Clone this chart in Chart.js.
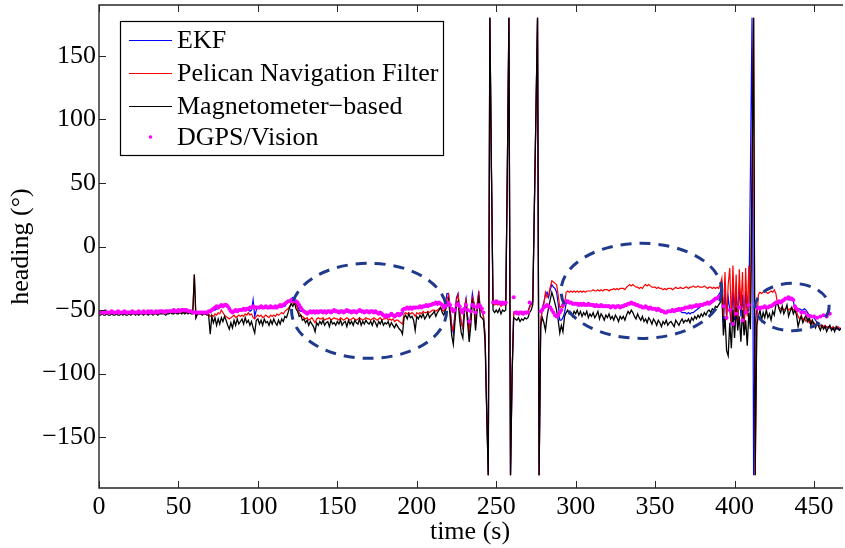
<!DOCTYPE html>
<html><head><meta charset="utf-8">
<script src="https://cdn.jsdelivr.net/npm/chart.js@4.4.1/dist/chart.umd.min.js"></script>
<style>html,body{margin:0;padding:0;background:#fff;}canvas{display:block;}</style>
</head><body>
<canvas id="c" width="845" height="548"></canvas>
<script>
// ---- data (heading in degrees, one sample per second starting at t = 0 s) ----
const timeStep = 1;
const seriesNames = ['EKF', 'Pelican Navigation Filter', 'Magnetometer\u2212based', 'DGPS/Vision'];
const xTickValues = [0, 50, 100, 150, 200, 250, 300, 350, 400, 450];
const yTickValues = [-150, -100, -50, 0, 50, 100, 150];

const ekf = [
-52,-52,-52,-52,-52,-52,-52,-52,-52,-52,
-52,-52,-52,-52,-52,-52,-52,-52,-52,-52,
-52,-52,-52,-52,-52,-52,-52,-52,-52,-52,
-52,-52,-52,-52,-52,-52,-52,-52,-52,-52,
-52,-52,-52,-52,-52,-51,-52,-52,-51,-52,
-52,-51,-52,-51,-52,-51,-52,-51,-52,-52,
-52,-52,-52,-52,-52,-52,-52,-52,-52,-52,
-52,-51,-50,-50,-49,-49,-48,-47,-48,-46,
-45,-46,-48,-50,-51,-52,-51,-52,-51,-50,
-50,-49,-50,-49,-50,-51,-50,-42,-55,-50,
-48,-49,-48,-49,-48,-48,-49,-48,-49,-48,
-48,-49,-48,-47,-48,-47,-46,-47,-45,-44,
-43,-41,-40,-42,-44,-47,-50,-51,-51,-52,
-52,-53,-52,-52,-52,-52,-53,-52,-52,-52,
-52,-52,-52,-53,-52,-52,-52,-52,-51,-52,
-52,-52,-52,-52,-52,-52,-51,-52,-52,-52,
-52,-52,-52,-52,-51,-52,-52,-52,-52,-52,
-52,-52,-52,-52,-52,-53,-53,-53,-54,-54,
-55,-55,-55,-55,-54,-55,-55,-55,-54,-55,
-54,-53,-49,-49,-48,-49,-48,-49,-48,-49,
-48,-48,-48,-48,-47,-48,-47,-47,-47,-46,
-46,-46,-45,-46,-45,-45,-46,-47,-45,-37,
-37,-50,-62,-68,-52,-40,-37,-50,-60,-64,
-48,-41,-55,-68,-50,-37,-45,-62,-46,-35,
-50,-51,-55,-70,-128,-180,180,60,-45,-45,
-44,-45,-44,-46,-45,-44,-45,60,180,-180,
-100,-52,-52,-53,-52,-52,-53,-52,-52,-52,
-51,-47,-45,-43,30,105,180,-180,-60,-48,
-44,-38,-36,-40,-34,-30,-32,-33,-36,-45,
-58,-58,-56,-52,-45,-44,-45,-44,-45,-45,
-45,-44,-45,-45,-45,-44,-45,-45,-46,-45,
-46,-45,-46,-46,-46,-47,-46,-46,-47,-46,
-47,-46,-47,-47,-47,-47,-47,-46,-47,-47,
-46,-46,-45,-44,-45,-44,-44,-45,-46,-46,
-47,-47,-47,-48,-47,-48,-48,-48,-49,-48,
-49,-49,-49,-50,-50,-51,-51,-52,-51,-51,
-51,-51,-51,-51,-51,-50,-51,-52,-52,-52,
-53,-52,-53,-52,-52,-51,-50,-49,-48,-47,
-46,-45,-45,-44,-44,-43,-43,-42,-41,-40,
-38,-36,-30,-60,-35,-55,-40,-50,-62,-32,
-58,-35,-60,-30,-55,-38,-66,-35,-52,-50,
60,180,-180,-60,-50,-48,-48,-48,-48,-48,
-48,-48,-47,-48,-47,-46,-45,-44,-43,-43,
-42,-42,-42,-41,-42,-42,-42,-43,-49,-49,
-49,-49,-50,-50,-49,-50,-52,-54,-54,-55,
-56,-58,-60,-62,-62,-62,-63,-63,-63,-64,
-64,-64,-65,-64,-65,-64,-65,-65
];

const pelican = [
-52,-52,-52,-52,-52,-52,-52,-52,-52,-52,
-52,-52,-52,-52,-52,-52,-52,-52,-52,-52,
-52,-52,-52,-52,-52,-52,-52,-52,-52,-52,
-52,-52,-52,-52,-52,-52,-52,-52,-52,-52,
-52,-52,-52,-52,-52,-51,-52,-52,-51,-52,
-52,-51,-52,-51,-52,-51,-52,-51,-52,-52,
-22,-56,-53,-53,-53,-53,-53,-53,-53,-53,
-55,-54,-55,-53,-54,-52,-53,-50,-52,-54,
-55,-56,-57,-56,-55,-54,-56,-55,-54,-55,
-54,-55,-53,-54,-52,-54,-53,-56,-57,-55,
-54,-55,-54,-56,-55,-54,-55,-56,-54,-55,
-54,-55,-53,-54,-53,-52,-53,-51,-50,-49,
-47,-45,-44,-43,-45,-49,-52,-54,-55,-56,
-57,-56,-58,-57,-56,-58,-60,-57,-56,-57,
-57,-56,-58,-57,-57,-56,-58,-57,-56,-57,
-57,-58,-56,-57,-58,-57,-56,-57,-58,-57,
-56,-57,-58,-57,-56,-57,-58,-57,-56,-57,
-57,-58,-57,-56,-57,-58,-57,-56,-58,-57,
-57,-56,-58,-57,-58,-57,-59,-58,-58,-59,
-60,-61,-53,-52,-53,-52,-53,-52,-53,-55,
-52,-53,-52,-53,-51,-52,-52,-51,-52,-51,
-50,-50,-51,-50,-49,-48,-50,-51,-48,-42,
-38,-50,-62,-66,-55,-42,-38,-50,-60,-64,
-48,-42,-55,-67,-55,-40,-44,-60,-46,-37,
-50,-51,-55,-70,-128,-180,180,60,-46,-46,
-45,-46,-45,-47,-46,-45,-46,60,180,-180,
-100,-52,-53,-52,-53,-52,-53,-52,-52,-53,
-52,-48,-46,-44,30,105,180,-180,-58,-50,
-45,-36,-40,-38,-32,-27,-28,-29,-30,-38,
-48,-47,-48,-46,-36,-35,-36,-35,-36,-35,
-36,-35,-36,-35,-36,-35,-36,-35,-35,-35,
-35,-34,-35,-35,-34,-35,-34,-35,-34,-34,
-34,-35,-34,-34,-33,-34,-33,-34,-33,-33,
-33,-34,-32,-31,-30,-31,-30,-31,-32,-32,
-33,-32,-33,-31,-30,-31,-30,-31,-32,-32,
-32,-33,-32,-33,-33,-34,-33,-34,-33,-33,
-33,-34,-33,-32,-33,-33,-32,-33,-33,-32,
-32,-33,-32,-32,-31,-32,-32,-31,-32,-32,
-32,-31,-32,-33,-32,-32,-33,-32,-33,-32,
-33,-30,-25,-55,-20,-58,-30,-17,-60,-15,
-55,-22,-62,-18,-50,-20,-65,-17,-55,-15,
-60,55,180,-180,-60,-38,-36,-37,-36,-35,
-36,-37,-36,-35,-36,-34,-37,-45,-48,-49,
-48,-50,-49,-48,-50,-49,-48,-50,-49,-51,
-55,-57,-54,-58,-56,-59,-57,-60,-58,-61,
-60,-62,-61,-63,-62,-64,-63,-62,-64,-63,
-63,-64,-63,-65,-64,-63,-64,-65
];

const magnetometer = [
-54,-54,-53,-54,-54,-53,-54,-54,-53,-54,
-54,-53,-54,-54,-53,-54,-53,-54,-54,-53,
-54,-53,-53,-54,-53,-54,-53,-53,-54,-53,
-53,-54,-53,-53,-54,-53,-53,-54,-53,-53,
-53,-53,-54,-53,-53,-52,-53,-53,-52,-53,
-53,-52,-53,-52,-53,-52,-53,-52,-53,-53,
-22,-56,-53,-53,-53,-54,-53,-53,-54,-54,
-69,-55,-60,-56,-62,-57,-61,-56,-59,-55,
-58,-62,-65,-60,-64,-58,-62,-57,-61,-59,
-57,-61,-56,-60,-58,-62,-59,-64,-68,-58,
-57,-61,-58,-62,-57,-60,-59,-62,-58,-61,
-57,-60,-62,-58,-61,-57,-59,-55,-56,-52,
-48,-45,-47,-44,-49,-51,-55,-54,-58,-57,
-60,-58,-62,-59,-61,-63,-67,-60,-62,-59,
-61,-58,-62,-60,-59,-63,-58,-61,-60,-62,
-59,-61,-58,-62,-60,-59,-63,-58,-61,-59,
-62,-58,-60,-61,-57,-62,-59,-61,-58,-60,
-61,-59,-62,-58,-60,-63,-59,-61,-58,-62,
-60,-61,-59,-63,-60,-62,-64,-61,-63,-65,
-66,-69,-56,-54,-57,-53,-56,-55,-58,-66,
-55,-57,-54,-56,-53,-57,-55,-52,-56,-54,
-53,-51,-55,-52,-50,-48,-52,-54,-50,-47,
-42,-55,-70,-77,-60,-45,-43,-58,-68,-72,
-52,-46,-60,-75,-62,-43,-48,-66,-50,-41,
-55,-56,-58,-75,-130,-180,180,60,-50,-52,
-50,-52,-49,-53,-50,-51,-50,60,180,-180,
-100,-56,-57,-58,-56,-59,-57,-58,-56,-57,
-56,-52,-50,-46,30,105,180,-180,-62,-56,
-60,-66,-55,-48,-42,-36,-40,-45,-50,-58,
-68,-62,-67,-55,-52,-50,-53,-52,-55,-51,
-53,-50,-54,-51,-55,-52,-54,-51,-56,-53,
-55,-52,-56,-54,-51,-57,-53,-55,-58,-54,
-56,-53,-57,-55,-58,-54,-56,-59,-55,-57,
-55,-58,-54,-51,-53,-50,-52,-55,-57,-53,
-56,-58,-55,-59,-57,-60,-56,-58,-61,-57,
-59,-62,-58,-60,-63,-59,-61,-58,-62,-60,
-59,-61,-63,-58,-60,-62,-59,-57,-60,-58,
-59,-57,-60,-56,-58,-55,-57,-54,-56,-53,
-55,-52,-54,-51,-50,-52,-49,-50,-47,-48,
-46,-44,-38,-70,-55,-82,-86,-60,-80,-50,
-72,-48,-66,-55,-75,-50,-70,-58,-78,-52,
-65,55,180,-180,-62,-55,-50,-58,-52,-56,
-50,-56,-53,-58,-51,-54,-46,-44,-49,-52,
-47,-53,-50,-46,-55,-51,-48,-53,-50,-54,
-63,-58,-55,-60,-57,-54,-59,-56,-62,-58,
-61,-64,-60,-63,-66,-62,-65,-63,-67,-64,
-62,-66,-64,-67,-63,-65,-66,-64
];

const dgpsVision = [
-52,-52,-52,-52,-51,-52,-52,-52,-51,-52,
-52,-52,-51,-52,-52,-52,-51,-52,-52,-52,
-52,-51,-52,-52,-52,-51,-52,-52,-51,-52,
-52,-51,-52,-51,-52,-52,-51,-52,-51,-51,
-51,-52,-51,-51,-51,-51,-51,-50,-51,-51,
-50,-51,-50,-50,-50,-50,-51,-51,-51,-52,
-52,-52,-52,-52,-52,-52,-52,-52,-52,-51,
-51,-50,-49,-48,-47,-48,-47,-46,-47,-46,
-46,-47,-49,-51,-52,-51,-50,-51,-50,-50,
-50,-49,-50,-49,-49,-48,-48,-47,-48,-48,
-48,-48,-47,-48,-48,-47,-48,-48,-47,-48,
-48,-47,-48,-47,-46,-47,-46,-45,-44,-43,
-43,-42,-42,-43,-43,-44,-46,-48,-50,-51,
-52,-53,-52,-51,-52,-51,-52,-51,-52,-51,
-51,-52,-51,-52,-51,-51,-52,-51,-50,-51,
-51,-52,-51,-51,-52,-51,-50,-51,-51,-52,
-51,-51,-52,-51,-50,-51,-51,-52,-51,-51,
-52,-51,-51,-52,-51,-52,-53,-52,-53,-54,
-55,-54,-55,-54,-53,-54,-55,-54,-53,-54,
-53,-50,-49,-49,-48,-49,-48,-49,-48,-48,
-48,-48,-47,-48,-47,-47,-46,-47,-46,-46,
-45,-45,-44,-45,-44,-45,-46,-48,-47,-45,
-44,-46,-49,-51,-50,-46,-45,-47,-50,-52,
-49,-46,-50,-59,-51,-46,-47,-52,-48,-46,
-47,-49,-52,null,null,null,null,null,-44,-44,
-43,-44,-44,-45,-44,-45,-44,null,null,null,
null,-40,-52,-52,-53,-52,-52,-53,-52,-52,
-52,-44,null,null,null,null,null,null,-51,-50,
-48,-47,-46,-47,-48,-50,-52,-54,-55,-54,
-52,-50,-46,-44,-43,-43,-44,-44,-45,-45,
-45,-45,-46,-45,-46,-45,-46,-46,-45,-46,
-46,-46,-47,-46,-47,-47,-46,-47,-47,-47,
-47,-47,-48,-47,-47,-48,-47,-47,-48,-47,
-47,-46,-46,-45,-45,-44,-45,-45,-46,-46,
-47,-47,-48,-48,-47,-48,-49,-48,-49,-49,
-49,-50,-49,-50,-51,-51,-52,-52,-51,-51,
-51,-50,-51,-50,-50,-49,-50,-49,-49,-48,
-48,-48,-47,-48,-47,-47,-46,-47,-46,-46,
-46,-45,-45,-44,-45,-44,-43,-42,-41,-41,
-40,-39,null,-47,null,-56,null,-50,null,-61,
null,-53,null,-48,null,-58,null,-52,null,-46,
null,null,null,null,-48,-48,-49,-48,-48,-47,
-48,-48,-47,-47,-46,-45,-44,-44,-43,-44,
-43,-42,-41,-41,-40,-41,-41,-42,-47,-49,
-50,null,-52,null,-52,null,-54,null,-55,null,
-55,null,-56,null,-55,null,-54,null,-55,null,
-53,null,null,null,null,null,null,null
];

// dashed ellipses highlighting regions (data units: time s, heading deg)
const ellipseCenterT = [170.0, 341.4, 436.2];
const ellipseCenterV = [-50.6, -34.9, -47.6];
const ellipseHalfT   = [48.8, 50.6, 23.3];
const ellipseHalfV   = [37.4, 37.4, 18.6];

// ---- chart ----
const FONT = "'Liberation Serif', 'Times New Roman', Times, serif";
const toPoints = arr => arr.map((v, i) => ({ x: i * timeStep, y: v }));
const minus = s => String(s).replace('-', '\u2212');

const framePlugin = {
  id: 'frame',
  afterDatasetsDraw(chart) {
    const { ctx, chartArea: a, scales } = chart;
    ctx.save();
    // ellipses
    ctx.strokeStyle = '#1f3a8c';
    ctx.lineWidth = 3;
    ctx.setLineDash([11, 8]);
    for (let i = 0; i < ellipseCenterT.length; i++) {
      const cx = scales.x.getPixelForValue(ellipseCenterT[i]);
      const cy = scales.y.getPixelForValue(ellipseCenterV[i]);
      const rx = scales.x.getPixelForValue(ellipseCenterT[i] + ellipseHalfT[i]) - cx;
      const ry = cy - scales.y.getPixelForValue(ellipseCenterV[i] + ellipseHalfV[i]);
      ctx.beginPath();
      ctx.ellipse(cx, cy, rx, ry, 0, 0, Math.PI * 2);
      ctx.stroke();
    }
    ctx.setLineDash([]);
    // box + inward ticks
    ctx.strokeStyle = '#262626';
    ctx.lineWidth = 1.4;
    ctx.beginPath();
    ctx.moveTo(a.right + 2, a.top); ctx.lineTo(a.left, a.top);
    ctx.lineTo(a.left, a.bottom); ctx.lineTo(a.right + 2, a.bottom);
    ctx.stroke();
    ctx.lineWidth = 1;
    ctx.beginPath();
    for (const v of xTickValues) {
      const px = Math.round(scales.x.getPixelForValue(v)) + 0.5;
      ctx.moveTo(px, a.bottom); ctx.lineTo(px, a.bottom - 7);
      ctx.moveTo(px, a.top); ctx.lineTo(px, a.top + 7);
    }
    for (const v of yTickValues) {
      const py = Math.round(scales.y.getPixelForValue(v)) + 0.5;
      ctx.moveTo(a.left, py); ctx.lineTo(a.left + 7, py);
    }
    ctx.stroke();
    ctx.restore();
  },
  afterDraw(chart) {
    const { ctx } = chart;
    ctx.save();
    // legend box
    const bx = 120.5, by = 21.5, bw = 323, bh = 134;
    ctx.fillStyle = '#fff';
    ctx.fillRect(bx, by, bw, bh);
    ctx.strokeStyle = '#000';
    ctx.lineWidth = 1.2;
    ctx.strokeRect(bx, by, bw, bh);
    const colors = ['#0000ff', '#ff0000', '#000000', '#ff00ff'];
    const rows = [40, 73, 106, 137];
    ctx.font = '26px ' + FONT;
    ctx.textBaseline = 'middle';
    ctx.textAlign = 'left';
    for (let i = 0; i < 4; i++) {
      if (i < 3) {
        ctx.strokeStyle = colors[i];
        ctx.lineWidth = 1.2;
        ctx.beginPath();
        ctx.moveTo(129, rows[i] + 0.5); ctx.lineTo(172, rows[i] + 0.5);
        ctx.stroke();
      } else {
        ctx.fillStyle = colors[i];
        ctx.beginPath();
        ctx.arc(150.5, rows[i], 1.8, 0, Math.PI * 2);
        ctx.fill();
      }
      ctx.fillStyle = '#000';
      ctx.fillText(seriesNames[i], 177, rows[i] + 1);
    }
    ctx.restore();
  }
};

new Chart(document.getElementById('c'), {
  type: 'line',
  data: {
    datasets: [
      { label: seriesNames[3], data: toPoints(dgpsVision), showLine: false,
        pointRadius: 2, pointBorderWidth: 0, pointBackgroundColor: '#ff00ff',
        borderColor: '#ff00ff', backgroundColor: '#ff00ff', order: 1 },
      { label: seriesNames[2], data: toPoints(magnetometer), borderColor: '#000000',
        borderWidth: 1.3, pointRadius: 0, tension: 0, order: 2 },
      { label: seriesNames[1], data: toPoints(pelican), borderColor: '#ff0000',
        borderWidth: 1.2, pointRadius: 0, tension: 0, order: 3 },
      { label: seriesNames[0], data: toPoints(ekf), borderColor: '#0000ff',
        borderWidth: 1.2, pointRadius: 0, tension: 0, order: 4 }
    ]
  },
  options: {
    responsive: false,
    animation: false,
    events: [],
    layout: { padding: { top: 5, left: 0, right: 0, bottom: 0 } },
    plugins: { legend: { display: false }, tooltip: { enabled: false } },
    scales: {
      x: {
        type: 'linear', min: 0, max: 467,
        grid: { display: false, drawTicks: false },
        border: { display: false },
        ticks: { stepSize: 50, includeBounds: false, autoSkip: false, maxRotation: 0,
                 color: '#000', padding: 4, font: { family: FONT, size: 26 } },
        title: { display: true, text: 'time (s)', color: '#000',
                 font: { family: FONT, size: 26 }, padding: { top: 0, bottom: 0 } },
        afterFit(s) { s.height = 60; s.paddingLeft = 0; s.paddingRight = 0; }
      },
      y: {
        type: 'linear', min: -190, max: 190,
        grid: { display: false, drawTicks: false },
        border: { display: false },
        ticks: { stepSize: 50, includeBounds: false, color: '#000', padding: 3,
                 font: { family: FONT, size: 26 }, callback: v => minus(v) },
        title: { display: true, text: 'heading (\u00b0)', color: '#000',
                 font: { family: FONT, size: 26 }, padding: { top: 6, bottom: 0 } },
        afterFit(s) { s.width = 99; s.paddingTop = 0; s.paddingBottom = 0; }
      }
    }
  },
  plugins: [framePlugin]
});
</script>
</body></html>
